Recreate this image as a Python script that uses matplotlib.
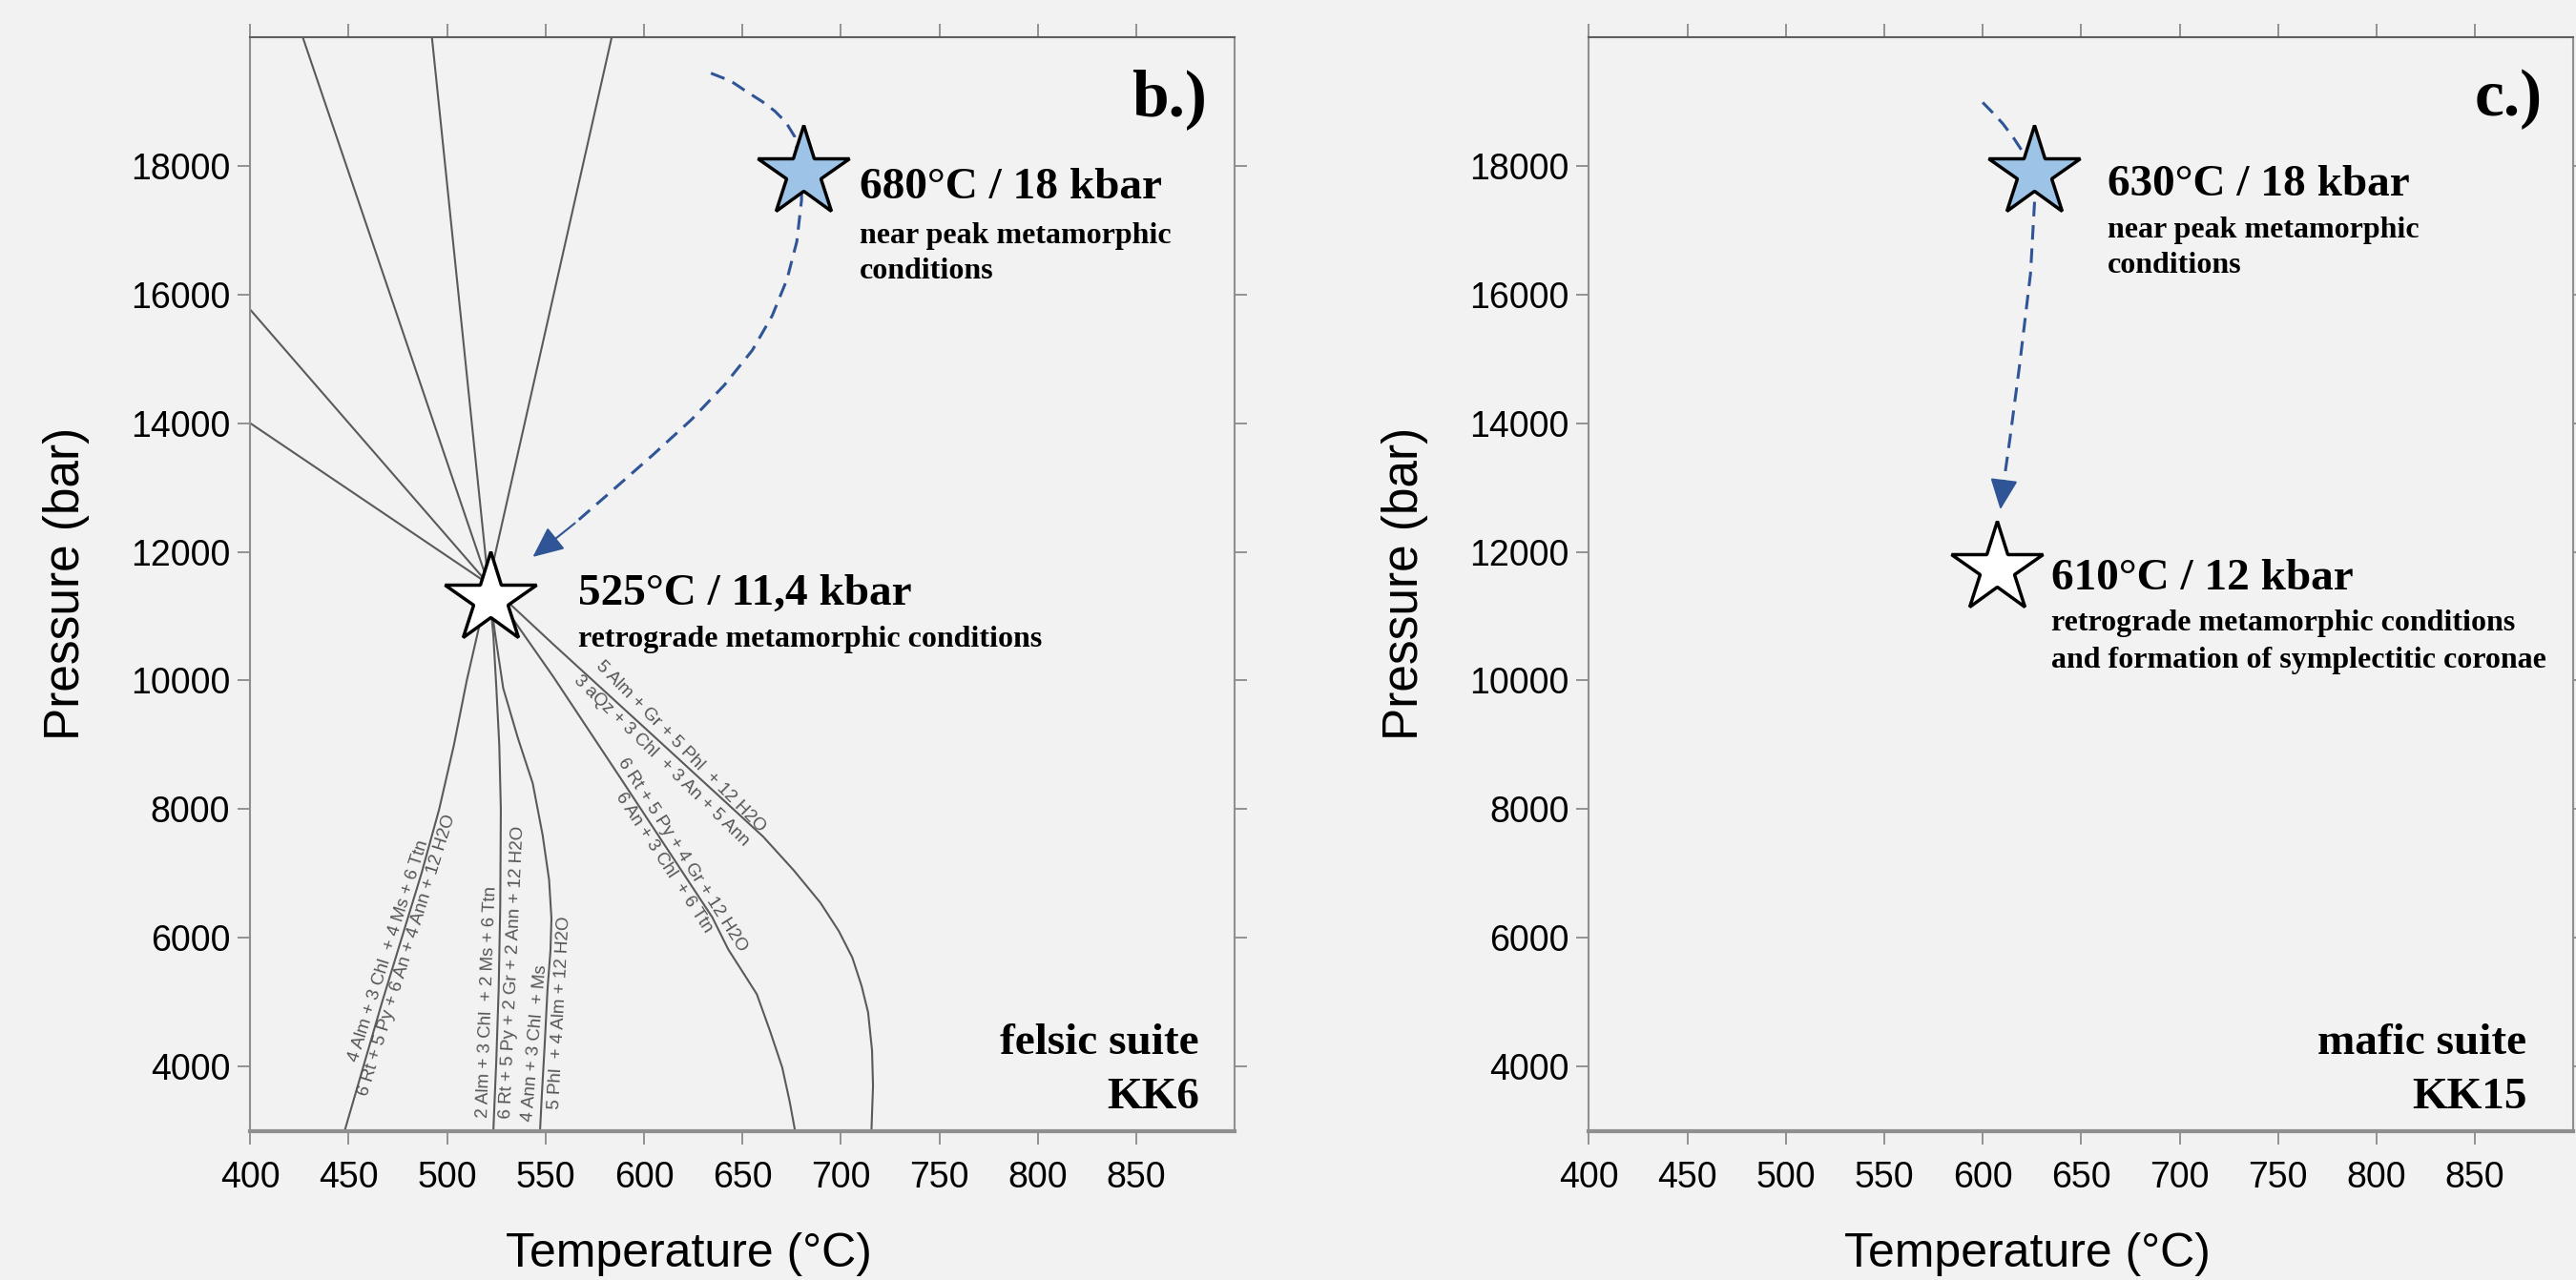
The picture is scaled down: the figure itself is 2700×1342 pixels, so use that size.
import matplotlib
matplotlib.use("Agg")
import matplotlib.pyplot as plt

# ---------------- data ----------------
t_lim = [400, 900]
p_lim = [3000, 20000]
t_ticks = [400, 450, 500, 550, 600, 650, 700, 750, 800, 850]
p_ticks = [4000, 6000, 8000, 10000, 12000, 14000, 16000, 18000]

# KK6 reaction curves (T in degC, P in bar)
curve1_T = [521, 426.7]
curve1_P = [11500, 20000]
curve2_T = [521, 492.3]
curve2_P = [11500, 20000]
curve3_T = [521, 583.6]
curve3_P = [11500, 20000]
curve4_T = [521, 400]
curve4_P = [11500, 15766]
curve5_T = [521, 400]
curve5_P = [11500, 14000]
curve6_T = [521, 516, 510, 503.5, 496, 487, 477, 467, 457.5, 448]
curve6_P = [11500, 10800, 10000, 9000, 8000, 7000, 6000, 5000, 4000, 3000]
curve7_T = [521, 523.5, 525, 526.5, 527.3, 527, 526.2, 525, 523.5]
curve7_P = [11500, 10700, 9900, 9000, 8000, 6500, 5200, 4100, 3000]
curve8_T = [521, 524.5, 528.5, 536, 543.5, 548.5, 551.8, 553, 552.5, 551, 549.5, 548.2, 547.2]
curve8_P = [11500, 10700, 9880, 9100, 8400, 7600, 6900, 6300, 5800, 5200, 4300, 3600, 3000]
curve9_T = [521, 554, 602, 640, 660.6, 676, 689.6, 699, 705.8, 710.5, 713.8, 715.8, 716.3, 715.5]
curve9_P = [11500, 10560, 9217, 8150, 7569, 7050, 6544, 6100, 5691, 5250, 4840, 4250, 3698, 3000]
curve10_T = [521, 554, 587.9, 634.7, 642.8, 650.5, 657.3, 664, 670.2, 674, 676.7]
curve10_P = [11500, 10055, 8490, 6317, 5818, 5450, 5122, 4550, 3983, 3450, 3000]

reaction_texts = [
    "4 Alm + 3 Chl  + 4 Ms + 6 Ttn",
    "6 Rt + 5 Py + 6 An + 4 Ann + 12 H2O",
    "2 Alm + 3 Chl  + 2 Ms + 6 Ttn",
    "6 Rt + 5 Py + 2 Gr + 2 Ann + 12 H2O",
    "4 Ann + 3 Chl  + Ms",
    "5 Phl  + 4 Alm + 12 H2O",
    "5 Alm + Gr + 5 Phl  + 12 H2O",
    "3 aQz + 3 Chl  + 3 An + 5 Ann",
    "6 Rt + 5 Py + 4 Gr + 12 H2O",
    "6 An + 3 Chl  + 6 Ttn",
]
reaction_T = [470.2, 479.8, 520.4, 533.0, 544.6, 557.2, 618.6, 608.9, 619.4, 610.0]
reaction_P = [5792, 5732, 4999, 5469, 4369, 4839, 8978, 8755, 7293, 7170]
reaction_rot = [72.4, 72.7, 88.0, 87.5, 85.0, 87.0, -45.3, -44.2, -57.4, -56.8]

# KK6 P-T points and path
kk6_peak = [681, 17900]
kk6_retro = [522, 11270]
path_b_T = [634, 644, 652.3, 660, 666.4, 672, 676.5, 680, 680, 677.6, 672.6, 665.1, 655.0,
            640.9, 624.2, 605.0, 585.0, 564.9, 543.5]
path_b_P = [19440, 19320, 19150, 19000, 18852, 18680, 18456, 17900, 17465, 16822, 16234,
            15670, 15133, 14595, 14058, 13520, 12982, 12445, 11920]

# KK15 P-T points and path
kk15_peak = [626, 17890]
kk15_retro = [607, 11735]
path_c_T = [600, 605, 610.3, 616, 621.6, 626, 626.4, 624.3, 618.7, 613.8, 610.6, 609]
path_c_P = [18986, 18830, 18654, 18420, 18159, 17890, 17465, 16324, 14888, 13747, 13053, 12657]

# ---------------- style ----------------
BG = "#f2f2f2"
LINE = "#5a5a5a"
PATH = "#2f5597"
STAR_BLUE = "#9dc3e6"
SERIF = ["Liberation Serif", "DejaVu Serif"]
SANS = ["Liberation Sans", "DejaVu Sans"]

fig = plt.figure(figsize=(27, 13.42), dpi=100, facecolor=BG)
W, H = 2700.0, 1342.0
ax_b = fig.add_axes([262.2 / W, 1 - 1185.5 / H, 1032 / W, 1146.5 / H])
ax_c = fig.add_axes([1665.3 / W, 1 - 1185.5 / H, 1032 / W, 1146.5 / H])


def style_axes(ax):
    ax.set_facecolor(BG)
    ax.set_xlim(t_lim)
    ax.set_ylim(p_lim)
    ax.set_xticks(t_ticks)
    ax.set_yticks(p_ticks)
    ax.set_xticklabels([str(t) for t in t_ticks])
    ax.set_yticklabels([str(p) for p in p_ticks])
    ax.tick_params(axis="x", direction="out", length=10, width=1.3, color="#8a8a8a",
                   labelsize=27, pad=13, top=True, bottom=True, labeltop=False)
    ax.tick_params(axis="y", direction="out", length=9.5, width=1.3, color="#8a8a8a",
                   labelsize=27, pad=5.5, left=True, right=True, labelright=False)
    for lab in ax.get_xticklabels() + ax.get_yticklabels():
        lab.set_fontfamily(SANS)
    for side in ["left", "right"]:
        ax.spines[side].set_color("#8f8f8f")
        ax.spines[side].set_linewidth(1.5)
    ax.spines["top"].set_color("#5f5f5f")
    ax.spines["top"].set_linewidth(1.5)
    ax.spines["bottom"].set_color("#8f8f8f")
    ax.spines["bottom"].set_linewidth(3)
    ax.set_xlabel("Temperature (°C)", fontsize=36, family=SANS)
    ax.set_ylabel("Pressure (bar)", fontsize=37, family=SANS)
    ax.xaxis.set_label_coords(0.445, -0.093)
    ax.yaxis.set_label_coords(-0.163, 0.5)


style_axes(ax_b)
style_axes(ax_c)

# ---- panel b: reaction curves ----
curves = [
    (curve1_T, curve1_P), (curve2_T, curve2_P), (curve3_T, curve3_P),
    (curve4_T, curve4_P), (curve5_T, curve5_P), (curve6_T, curve6_P),
    (curve7_T, curve7_P), (curve8_T, curve8_P), (curve9_T, curve9_P),
    (curve10_T, curve10_P),
]
for ct, cp in curves:
    ax_b.plot(ct, cp, color=LINE, lw=1.5, zorder=2, solid_capstyle="butt",
              solid_joinstyle="round")

for txt, t, p, r in zip(reaction_texts, reaction_T, reaction_P, reaction_rot):
    ax_b.text(t, p, txt, rotation=r, rotation_mode="anchor", ha="center", va="center",
              fontsize=13.5, color="#555555", family=SANS, zorder=3)


def draw_path(ax, pt, pp):
    ax.plot(pt[:-1], pp[:-1], color=PATH, lw=2.2, dashes=(5, 3), zorder=4,
            solid_joinstyle="round", dash_joinstyle="round")
    ax.annotate("", xy=(pt[-1], pp[-1]), xytext=(pt[-2], pp[-2]),
                arrowprops=dict(arrowstyle="-|>,head_length=1.0,head_width=0.45",
                                color=PATH, lw=1.5, mutation_scale=20,
                                shrinkA=0, shrinkB=0), zorder=4)


draw_path(ax_b, path_b_T, path_b_P)
draw_path(ax_c, path_c_T, path_c_P)

for ax, peak, retro in [(ax_b, kk6_peak, kk6_retro), (ax_c, kk15_peak, kk15_retro)]:
    ax.plot([peak[0]], [peak[1]], marker="*", ms=72, mfc=STAR_BLUE, mec="black", mew=2.5,
            ls="none", zorder=6)
    ax.plot([retro[0]], [retro[1]], marker="*", ms=72, mfc="white", mec="black", mew=2.5,
            ls="none", zorder=6)

# ---- annotations ----
bold = dict(family=SERIF, fontweight="bold", color="black", va="baseline", ha="left", zorder=7)
ax_b.text(709.6, 17490, "680°C / 18 kbar", fontsize=34, **bold)
ax_b.text(709.6, 16796, "near peak metamorphic", fontsize=23, **bold)
ax_b.text(709.6, 16250, "conditions", fontsize=23, **bold)
ax_b.text(566.6, 11182, "525°C / 11,4 kbar", fontsize=34, **bold)
ax_b.text(566.6, 10528, "retrograde metamorphic conditions", fontsize=23, **bold)

ax_c.text(663.2, 17542, "630°C / 18 kbar", fontsize=34, **bold)
ax_c.text(663.2, 16888, "near peak metamorphic", fontsize=23, **bold)
ax_c.text(663.2, 16333, "conditions", fontsize=23, **bold)
ax_c.text(635.0, 11410, "610°C / 12 kbar", fontsize=34, **bold)
ax_c.text(635.0, 10784, "retrograde metamorphic conditions", fontsize=23, **bold)
ax_c.text(635.0, 10200, "and formation of symplectitic coronae", fontsize=23, **bold)

corner = dict(family=SERIF, fontweight="bold", color="black", va="baseline", ha="right", zorder=7)
ax_b.text(0.972, 0.9285, "b.)", fontsize=50, transform=ax_b.transAxes, **corner)
ax_c.text(0.968, 0.9285, "c.)", fontsize=50, transform=ax_c.transAxes, **corner)
ax_b.text(0.964, 0.0698, "felsic suite", fontsize=34, transform=ax_b.transAxes, **corner)
ax_b.text(0.964, 0.0208, "KK6", fontsize=34, transform=ax_b.transAxes, **corner)
ax_c.text(0.9525, 0.0698, "mafic suite", fontsize=34, transform=ax_c.transAxes, **corner)
ax_c.text(0.9525, 0.0208, "KK15", fontsize=34, transform=ax_c.transAxes, **corner)

fig.savefig("out.png", dpi=100, facecolor=BG)
